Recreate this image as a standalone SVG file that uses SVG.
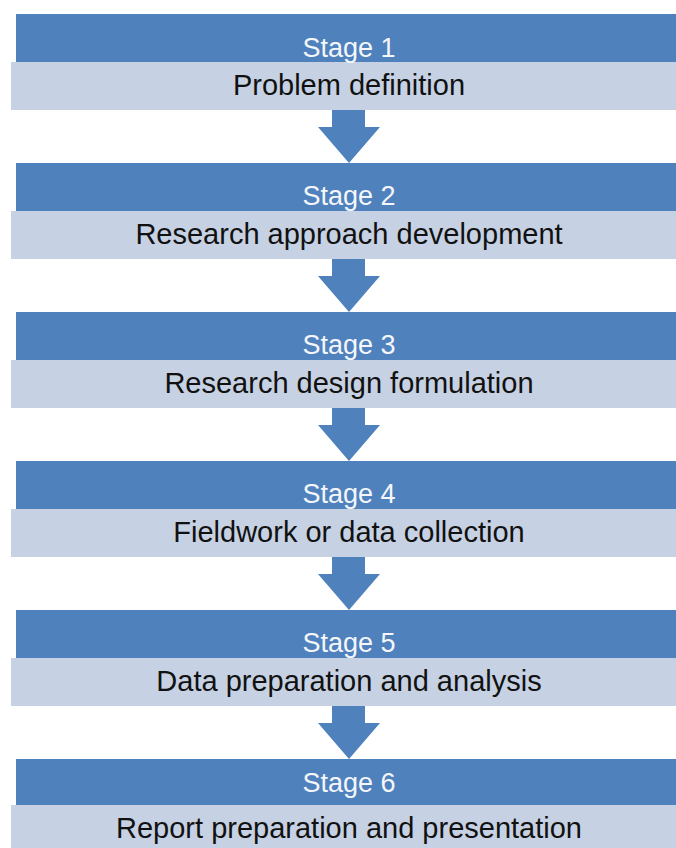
<svg xmlns="http://www.w3.org/2000/svg" width="676" height="848" viewBox="0 0 676 848">
  <style>
    .head { fill: #4F81BD; }
    .body { fill: #C6D1E3; }
    .lbl { font-family: "Liberation Sans", Arial, sans-serif; font-size: 27px; fill: #F4F6FA; text-anchor: middle; }
    .desc { font-family: "Liberation Sans", Arial, sans-serif; font-size: 29px; fill: #111111; text-anchor: middle; }
    .arrow { fill: #4F81BD; }
  </style>
  <defs>
    <path id="down" d="M -17 0 H 16 V 17 H 31 L 0 53 L -31 17 H -17 Z"/>
  </defs>
  <rect width="676" height="848" fill="#FFFFFF"/>

  <g id="connectors">
    <use href="#down" class="arrow" x="349" y="110"/>
    <use href="#down" class="arrow" x="349" y="259"/>
    <use href="#down" class="arrow" x="349" y="408"/>
    <use href="#down" class="arrow" x="349" y="557"/>
    <use href="#down" class="arrow" x="349" y="706"/>
  </g>

  <g id="stage1">
    <rect class="head" x="16" y="14" width="660" height="48"/>
    <rect class="body" x="11" y="62" width="665" height="48"/>
    <text class="lbl" x="349" y="57">Stage 1</text>
    <text class="desc" x="349" y="95">Problem definition</text>
  </g>

  <g id="stage2">
    <rect class="head" x="16" y="163" width="660" height="48"/>
    <rect class="body" x="11" y="211" width="665" height="48"/>
    <text class="lbl" x="349" y="205">Stage 2</text>
    <text class="desc" x="349" y="244">Research approach development</text>
  </g>

  <g id="stage3">
    <rect class="head" x="16" y="312" width="660" height="48"/>
    <rect class="body" x="11" y="360" width="665" height="48"/>
    <text class="lbl" x="349" y="354">Stage 3</text>
    <text class="desc" x="349" y="393">Research design formulation</text>
  </g>

  <g id="stage4">
    <rect class="head" x="16" y="461" width="660" height="48"/>
    <rect class="body" x="11" y="509" width="665" height="48"/>
    <text class="lbl" x="349" y="503">Stage 4</text>
    <text class="desc" x="349" y="542">Fieldwork or data collection</text>
  </g>

  <g id="stage5">
    <rect class="head" x="16" y="610" width="660" height="48"/>
    <rect class="body" x="11" y="658" width="665" height="48"/>
    <text class="lbl" x="349" y="652">Stage 5</text>
    <text class="desc" x="349" y="691">Data preparation and analysis</text>
  </g>

  <g id="stage6">
    <rect class="head" x="16" y="759" width="660" height="46"/>
    <rect class="body" x="11" y="805" width="665" height="43"/>
    <text class="lbl" x="349" y="792">Stage 6</text>
    <text class="desc" x="349" y="838">Report preparation and presentation</text>
  </g>
</svg>
